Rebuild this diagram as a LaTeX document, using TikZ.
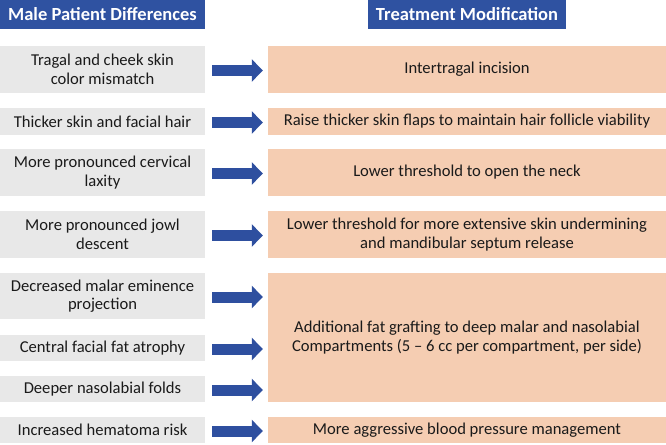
\documentclass[tikz,border=0pt]{standalone}
\usepackage{fontspec}
\setmainfont{Carlito}
\usetikzlibrary{arrows.meta}
\definecolor{hdrblue}{HTML}{2F52A1}
\definecolor{arrblue}{HTML}{2E4F9F}
\definecolor{lgrey}{HTML}{E8E8E8}
\definecolor{peach}{HTML}{F5CDB2}
\definecolor{txt}{HTML}{1A1A1A}
\begin{document}
\begin{tikzpicture}[x=1pt,y=-1pt,
  hdr/.style={fill=hdrblue,text=white,font=\fontsize{18.5}{22}\selectfont\bfseries,inner sep=0pt},
  lbox/.style={fill=lgrey,text=txt,font=\fontsize{16.6}{18.5}\selectfont,align=center,inner sep=0pt},
  rbox/.style={fill=peach,text=txt,font=\fontsize{16.6}{18.5}\selectfont,align=center,inner sep=0pt},
  bigarrow/.style={draw=arrblue,line width=11pt,-{Triangle[length=11pt,width=22pt]},arrblue}]
\useasboundingbox (0,0) rectangle (666,444);
% headers
\node[hdr,minimum width=205pt,minimum height=29pt] (hl) at (102.5,14.5) {Male Patient Differences};
\node[hdr,minimum width=198pt,minimum height=29pt] (hr) at (467,14.5) {Treatment Modification};
% left boxes
\node[lbox,minimum width=205pt,minimum height=47pt] (l1) at (102.5,69.5) {Tragal and cheek skin\\color mismatch};
\node[lbox,minimum width=205pt,minimum height=27pt] (l2) at (102.5,121.5) {Thicker skin and facial hair};
\node[lbox,minimum width=205pt,minimum height=47pt] (l3) at (102.5,172.5) {More pronounced cervical\\laxity};
\node[lbox,minimum width=205pt,minimum height=47pt] (l4) at (102.5,234.5) {More pronounced jowl\\descent};
\node[lbox,minimum width=205pt,minimum height=46pt] (l5) at (102.5,296) {Decreased malar eminence\\projection};
\node[lbox,minimum width=205pt,minimum height=26pt] (l6) at (102.5,348) {Central facial fat atrophy};
\node[lbox,minimum width=205pt,minimum height=26pt] (l7) at (102.5,389) {Deeper nasolabial folds};
\node[lbox,minimum width=205pt,minimum height=26pt] (l8) at (102.5,430) {Increased hematoma risk};
% right boxes
\node[rbox,minimum width=398pt,minimum height=47pt] (r1) at (467,69.5) {Intertragal incision};
\node[rbox,minimum width=398pt,minimum height=27pt] (r2) at (467,121.5) {Raise thicker skin flaps to maintain hair follicle viability};
\node[rbox,minimum width=398pt,minimum height=47pt] (r3) at (467,172.5) {Lower threshold to open the neck};
\node[rbox,minimum width=398pt,minimum height=47pt] (r4) at (467,234.5) {Lower threshold for more extensive skin undermining\\and mandibular septum release};
\node[rbox,minimum width=398pt,minimum height=129pt] (r5) at (467,337.5) {Additional fat grafting to deep malar and nasolabial\\Compartments (5 -- 6 cc per compartment, per side)};
\node[rbox,minimum width=398pt,minimum height=26pt] (r8) at (467,430) {More aggressive blood pressure management};
% arrows
\foreach \a/\b in {l1/r1,l2/r2,l3/r3,l4/r4,l5/r5,l6/r5,l7/r5,l8/r8}{
  \draw[bigarrow] ([xshift=7pt,yshift=-1pt]\a.east) -- ([xshift=-5pt,yshift=-1pt]\a.east -| \b.west);
}
\end{tikzpicture}
\end{document}
